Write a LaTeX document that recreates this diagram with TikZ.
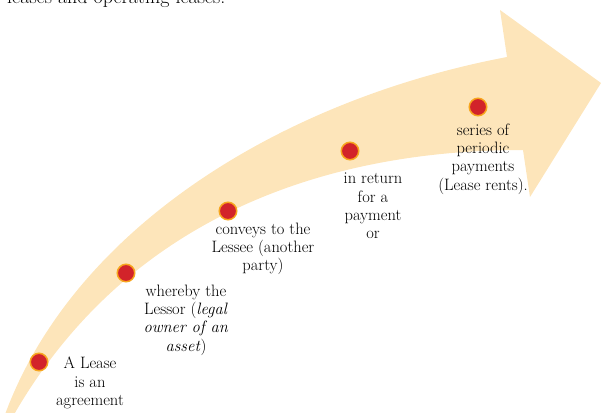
\documentclass[tikz,border=0pt]{standalone}
\begin{document}
\begin{tikzpicture}[x=1pt,y=-1pt,
  band/.style={fill=bandcol,draw=none},
  dotnode/.style={circle,fill=dotred,draw=dotring,line width=1.5pt,minimum size=17.5pt,inner sep=0pt},
  lbl/.style={align=center,inner sep=0pt,font=\fontsize{16.5}{18.3}\selectfont}]
\definecolor{bandcol}{RGB}{253,229,186}
\definecolor{dotred}{RGB}{210,35,42}
\definecolor{dotring}{RGB}{247,166,30}
\useasboundingbox (0,0) rectangle (601,412);
% arrow band
\fill[band] (3,420) .. controls (70,230) and (280,100) .. (507,57)
  -- (500,10) -- (601,83) -- (530,197) -- (523,150)
  .. controls (400,150) and (150,175) .. (12,418) -- cycle;
% top text (cut off)
\node[anchor=base west,inner sep=0pt,font=\fontsize{20}{24}\selectfont] (top) at (7,4) {leases and operating leases.};
% dots
\node[dotnode] (d1) at (39,362) {};
\node[dotnode] (d2) at (126,273) {};
\node[dotnode] (d3) at (228,211) {};
\node[dotnode] (d4) at (350,151) {};
\node[dotnode] (d5) at (478,107) {};
% labels
\node[lbl] (t1) at (90,383) {A Lease\\is an\\agreement};
\node[lbl] (t2) at (186,320) {whereby the\\Lessor (\textit{legal}\\\textit{owner of an}\\\textit{asset})};
\node[lbl] (t3) at (263,249) {conveys to the\\Lessee (another\\party)};
\node[lbl] (t4) at (373,206) {in return\\for a\\payment\\or};
\node[lbl] (t5) at (483,159) {series of\\periodic\\payments\\(Lease rents).};
\end{tikzpicture}
\end{document}
